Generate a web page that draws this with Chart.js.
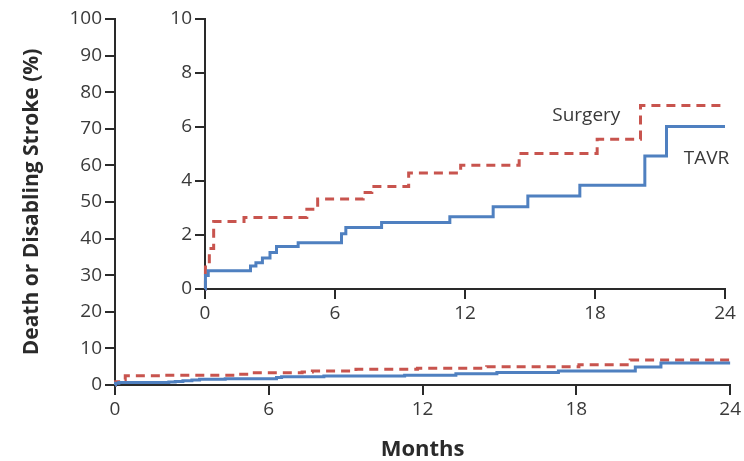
<!DOCTYPE html>
<html>
<head>
<meta charset="utf-8">
<script src="https://cdn.jsdelivr.net/npm/chart.js@4/dist/chart.umd.min.js"></script>
<style>
  html, body { margin: 0; padding: 0; background: #fff; }
  #wrap { position: relative; width: 744px; height: 461px; }
  #wrap canvas { position: absolute; left: 0; top: 0; }
</style>
</head>
<body>
<div id="wrap">
  <canvas id="mainChart" width="744" height="461"></canvas>
  <canvas id="insetChart" width="744" height="461"></canvas>
</div>
<script>
// Kaplan-Meier steps (months, % death or disabling stroke)
var tavrMonths = [0, 0.02, 0.15, 2.1, 2.35, 2.65, 3.0, 3.3, 4.3, 6.3, 6.5, 8.15, 11.3, 13.3, 14.9, 17.3, 20.3, 21.3, 24];
var tavrRisk   = [0, 0.5, 0.68, 0.85, 0.97, 1.15, 1.35, 1.57, 1.71, 2.05, 2.28, 2.46, 2.68, 3.05, 3.44, 3.84, 4.93, 6.02, 6.02];

var surgeryMonths = [0, 0.02, 0.2, 0.4, 1.8, 4.7, 5.2, 7.3, 7.7, 9.4, 11.8, 14.5, 18.1, 20.1, 24];
var surgeryRisk   = [0, 0.9, 1.5, 2.5, 2.65, 2.95, 3.33, 3.57, 3.8, 4.3, 4.58, 5.02, 5.55, 6.8, 6.8];

var monthTicks = [0, 6, 12, 18, 24];
var mainRiskTicks = [0, 10, 20, 30, 40, 50, 60, 70, 80, 90, 100];
var insetRiskTicks = [0, 2, 4, 6, 8, 10];

var seriesNames = ["TAVR", "Surgery"];

var BLUE = "#4f80c0";
var RED = "#c8544e";
var INK = "#2a2a2a";
var TEXT = "#3a3a3a";

Chart.defaults.font.family = "'Open Sans', sans-serif";
Chart.defaults.font.size = 19;
Chart.defaults.color = TEXT;

function points(xs, ys) {
    var out = [];
    for (var i = 0; i < xs.length; i++) {
        out.push({ x: xs[i], y: ys[i] });
    }
    return out;
}

function datasets() {
    return [{
        label: seriesNames[0],
        data: points(tavrMonths, tavrRisk),
        borderColor: BLUE,
        borderWidth: 3,
        stepped: true,
        pointRadius: 0,
        fill: false,
        clip: 4
    }, {
        label: seriesNames[1],
        data: points(surgeryMonths, surgeryRisk),
        borderColor: RED,
        borderWidth: 3,
        borderDash: [9, 6],
        stepped: true,
        pointRadius: 0,
        fill: false,
        clip: 4
    }];
}

function axis(min, max, tickList, extra) {
    var s = {
        type: 'linear',
        min: min,
        max: max,
        afterBuildTicks: function (scale) {
            scale.ticks = tickList.map(function (v) { return { value: v }; });
        },
        grid: {
            display: true,
            drawOnChartArea: false,
            drawTicks: true,
            tickLength: 10,
            color: INK,
            lineWidth: 2
        },
        border: { display: true, color: INK, width: 2 },
        ticks: { color: TEXT, padding: 3, maxRotation: 0, autoSkip: false }
    };
    for (var k in extra) { s[k] = extra[k]; }
    return s;
}

// main chart, 0-100%
new Chart(document.getElementById("mainChart"), {
    type: 'line',
    data: { datasets: datasets() },
    options: {
        responsive: false,
        animation: false,
        events: [],
        layout: { padding: { top: 19, right: 13, bottom: 0, left: 0 } },
        plugins: { legend: { display: false }, tooltip: { enabled: false } },
        scales: {
            x: axis(0, 24, monthTicks, {
                afterFit: function (scale) { scale.height = 76; },
                title: {
                    display: true,
                    text: 'Months',
                    color: INK,
                    font: { size: 22, weight: 'bold', lineHeight: 1 },
                    padding: { top: 0, bottom: 0 }
                }
            }),
            y: axis(0, 100, mainRiskTicks, {
                afterFit: function (scale) { scale.width = 115; },
                title: {
                    display: true,
                    text: 'Death or Disabling Stroke (%)',
                    color: INK,
                    font: { size: 21, weight: 'bold' },
                    padding: { top: 19, bottom: 0 }
                }
            })
        }
    }
});

// series names drawn next to the inset curves
var seriesLabels = {
    id: 'seriesLabels',
    afterDatasetsDraw: function (chart) {
        var ctx = chart.ctx;
        var xs = chart.scales.x;
        var ys = chart.scales.y;
        var spots = [
            { text: seriesNames[1], month: 17.6, risk: 6.42 },
            { text: seriesNames[0], month: 23.15, risk: 4.83 }
        ];
        ctx.save();
        ctx.font = "19px 'Open Sans', sans-serif";
        ctx.fillStyle = TEXT;
        ctx.textAlign = 'center';
        ctx.textBaseline = 'middle';
        spots.forEach(function (s) {
            ctx.fillText(s.text, xs.getPixelForValue(s.month), ys.getPixelForValue(s.risk));
        });
        ctx.restore();
    }
};

// inset chart, 0-10%
new Chart(document.getElementById("insetChart"), {
    type: 'line',
    data: { datasets: datasets() },
    options: {
        responsive: false,
        animation: false,
        events: [],
        layout: { padding: { top: 19, right: 19, bottom: 0, left: 0 } },
        plugins: { legend: { display: false }, tooltip: { enabled: false } },
        scales: {
            x: axis(0, 24, monthTicks, {
                afterFit: function (scale) { scale.height = 172; }
            }),
            y: axis(0, 10, insetRiskTicks, {
                afterFit: function (scale) { scale.width = 205; }
            })
        }
    },
    plugins: [seriesLabels]
});
</script>
</body>
</html>
